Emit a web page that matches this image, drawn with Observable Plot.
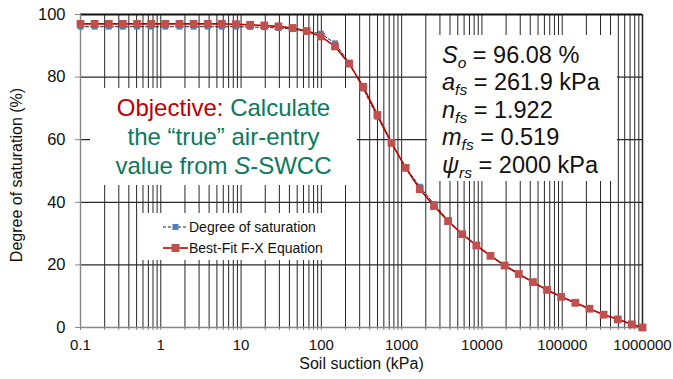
<!DOCTYPE html>
<html><head><meta charset="utf-8">
<script src="https://cdn.jsdelivr.net/npm/d3@7"></script>
<script src="https://cdn.jsdelivr.net/npm/@observablehq/plot@0.6"></script>
<style>
body{margin:0;background:#fff;}
#wrap{position:relative;width:673px;height:379px;font-family:"Liberation Sans",Arial,sans-serif;color:#111;}
#wrap svg{position:absolute;left:0;top:0;}
.box{position:absolute;background:#fff;box-sizing:border-box;}
#obj{left:90px;top:88px;width:267px;height:97px;padding-top:5px;text-align:center;font-size:24px;line-height:29px;color:#0B7A5C;white-space:nowrap;}
#obj .red{color:#C00000;}
#par{left:427px;top:35px;width:190px;height:146px;padding-top:6.5px;padding-left:15px;font-size:23.5px;line-height:27.5px;color:#111;white-space:nowrap;}
#par .s{font-size:15.5px;font-style:italic;position:relative;top:5px;line-height:0;}
#leg{left:138px;top:213px;width:197px;height:47px;font-size:14px;color:#111;}
#leg .row{position:absolute;left:25px;height:20px;display:flex;align-items:center;white-space:nowrap;}
#leg svg{position:static;margin-right:1px;}
</style></head><body>
<div id="wrap">
  <div class="box" id="obj">
    <div><span class="red">Objective:</span> Calculate</div>
    <div>the “true” air-entry</div>
    <div>value from <i>S</i>-SWCC</div>
  </div>
  <div class="box" id="par">
    <div><i>S</i><span class="s">o</span> = 96.08 %</div>
    <div><i>a</i><span class="s">fs</span> = 261.9 kPa</div>
    <div><i>n</i><span class="s">fs</span> = 1.922</div>
    <div><i>m</i><span class="s">fs</span> = 0.519</div>
    <div><i>ψ</i><span class="s">rs</span> = 2000 kPa</div>
  </div>
  <div class="box" id="leg">
    <div class="row" style="top:3.7px"><svg width="25" height="10"><line x1="0" y1="5" x2="25" y2="5" stroke="#1f1f1f" stroke-width="1" stroke-dasharray="3,2"/><rect x="9.5" y="2" width="6" height="6" fill="#4F81BD"/></svg>Degree of saturation</div>
    <div class="row" style="top:24.7px"><svg width="25" height="10"><line x1="0" y1="5" x2="25" y2="5" stroke="#C00000" stroke-width="1.6"/><rect x="8.5" y="1" width="8" height="8" fill="#C0504D"/></svg>Best-Fit F-X Equation</div>
  </div>
</div>
<script>
const suction = [0.1, 0.15, 0.225, 0.3375, 0.506, 0.759, 1.139, 1.709, 2.563, 3.844, 5.767, 8.65, 12.97, 19.46, 29.19, 43.79, 65.68, 98.53, 147.8, 221.7, 332.5, 498.8, 748.2, 1122, 1683, 2525, 3788, 5682, 8522, 12783, 19175, 28763, 43144, 64716, 97074, 145611, 218416, 327625, 491437, 737156, 1000000];
const degreeSat = [96.1, 96.1, 96.1, 96.1, 96.1, 96.1, 96.1, 96.1, 96.1, 96.1, 96.1, 96.1, 96.0, 95.9, 95.7, 95.3, 94.6, 93.9, 90.8, 84.6, 76.3, 67.3, 58.8, 51.2, 45.0, 39.5, 34.2, 29.9, 26.3, 23.0, 19.9, 17.2, 14.5, 12.0, 9.8, 7.8, 6.0, 4.1, 2.6, 1.0, 0];
const bestFit = [97.0, 97.0, 97.0, 97.0, 97.0, 97.0, 97.0, 97.0, 97.0, 97.0, 97.0, 96.9, 96.7, 96.5, 96.2, 95.7, 94.7, 93.0, 89.8, 84.3, 76.9, 67.9, 59.0, 51.0, 44.2, 38.8, 34.0, 29.8, 26.2, 22.9, 19.8, 17.1, 14.5, 12.0, 9.8, 7.9, 6.0, 4.1, 2.6, 1.0, 0];
const yTicks = [0, 20, 40, 60, 80, 100];
const xTickLabels = [0.1, 1, 10, 100, 1000, 10000, 100000, 1000000];

const measured = suction.map((x, i) => ({x, y: degreeSat[i]}));
const fit = suction.map((x, i) => ({x, y: bestFit[i]}));
const gridX = d3.range(-1, 6).flatMap(e => d3.range(1, 10).map(k => +(k * 10 ** e).toPrecision(3))).concat([1e6]);
const font = '"Liberation Sans", Arial, sans-serif';

const chart = Plot.plot({
  width: 673, height: 379,
  marginLeft: 80, marginRight: 31, marginTop: 14, marginBottom: 52,
  style: {fontFamily: font, fontSize: "15px", color: "#111", background: "transparent", overflow: "visible"},
  x: {type: "log", domain: [0.1, 1e6]},
  y: {domain: [0, 100]},
  marks: [
    Plot.ruleX(gridX.filter(v => v > 0.1 && v < 1e6), {stroke: "#262626", strokeWidth: 1}),
    Plot.ruleY([20, 40, 60, 80], {stroke: "#2a2a2a", strokeWidth: 1.3}),
    Plot.ruleY([100], {stroke: "#111", strokeWidth: 2.2}),
    Plot.ruleX([1e6], {stroke: "#222", strokeWidth: 1.5}),
    Plot.ruleX([0.1], {stroke: "#868686", strokeWidth: 1.4}),
    Plot.ruleY([0], {stroke: "#868686", strokeWidth: 1.4}),
    Plot.axisY({ticks: yTicks, tickSize: 5, tickPadding: 10, label: null, stroke: "#868686", fontSize: 16.5, fill: "#111"}),
    Plot.axisX({ticks: gridX, tickSize: 3, tickFormat: () => "", label: null, stroke: "#868686"}),
    Plot.axisX({ticks: xTickLabels, tickSize: 0, tickPadding: 12, tickFormat: d => String(d), label: null, fontSize: 15, fill: "#111"}),
    Plot.line(measured, {x: "x", y: "y", stroke: "#1f1f1f", strokeWidth: 1, strokeDasharray: "3,2"}),
    Plot.dot(measured, {x: "x", y: "y", symbol: "square", r: 3.3, fill: "#4F81BD"}),
    Plot.line(fit, {x: "x", y: "y", stroke: "#C00000", strokeWidth: 1.6}),
    Plot.dot(fit, {x: "x", y: "y", symbol: "square", r: 4.4, fill: "#C0504D"}),
    Plot.text(["Soil suction (kPa)"], {text: d => d, frameAnchor: "bottom", dy: 41, fontSize: 16, fill: "#111"}),
    Plot.text(["Degree of saturation (%)"], {text: d => d, frameAnchor: "left", textAnchor: "middle", dx: -64, dy: 4, rotate: -90, fontSize: 16, fill: "#111"})
  ]
});
const wrap = document.getElementById("wrap");
wrap.insertBefore(chart, wrap.firstChild);
</script>
</body></html>
